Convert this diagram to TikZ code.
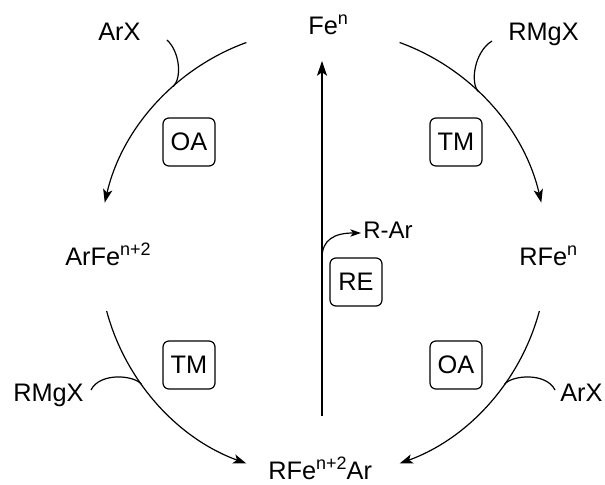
\documentclass[tikz,border=0pt]{standalone}
\usepackage{fontspec}
\setmainfont{Liberation Sans}
\usetikzlibrary{arrows.meta,calc}
% superscript sized to the label font
\newcommand\supx[1]{\raisebox{0.42em}{\fontsize{13.5}{15}\selectfont #1}}
\begin{document}
\begin{tikzpicture}[x=0.75pt,y=0.75pt,
  lbl/.style={anchor=base west,inner sep=0pt,font=\fontsize{19}{22}\selectfont},
  stepbox/.style={draw,line width=0.9pt,rounded corners=4.5pt,
    minimum width=39pt,minimum height=36pt,inner sep=0pt,
    font=\fontsize{19}{22}\selectfont},
  cyc/.style={line width=0.9pt,-{Stealth[length=10pt,width=7pt,inset=2.5pt]}},
  hook/.style={line width=0.9pt},
  main/.style={line width=1.3pt,-{Stealth[length=11pt,width=7.5pt,inset=2.5pt]}},
  small/.style={line width=0.9pt,-{Stealth[length=8pt,width=5.5pt,inset=2pt]}}]
\useasboundingbox (0,0) rectangle (605,484);

% species
\node[lbl] (fen)   at (308,449) {Fe\supx{n}};
\node[lbl] (arxa)  at (98,443)  {ArX};
\node[lbl] (rmgxa) at (508,443) {RMgX};
\node[lbl] (arfe)  at (65,218)  {ArFe\supx{n+2}};
\node[lbl] (rfe)   at (519,218) {RFe\supx{n}};
\node[lbl] (rmgxb) at (13,82)   {RMgX};
\node[lbl] (arxb)  at (560,82)  {ArX};
\node[lbl] (rfear) at (268,4)   {RFe\supx{n+2}Ar};
\node[lbl,font=\fontsize{18}{21}\selectfont] (rar) at (363,245) {R-Ar};

% step labels
\node[stepbox] (oaa) at (189,342) {OA};
\node[stepbox] (tma) at (456,342) {TM};
\node[stepbox] (re)  at (356,202) {RE};
\node[stepbox] (tmb) at (189,119) {TM};
\node[stepbox] (oab) at (456,119) {OA};

% cycle arcs
\coordinate (C) at (323,231);
\draw[cyc] ($(C)+(110:224)$) arc[start angle=110,end angle=167,radius=224];
\draw[cyc] ($(C)+(70:224)$)  arc[start angle=70,end angle=13,radius=224];
\draw[cyc] ($(C)+(195:224)$) arc[start angle=195,end angle=250,radius=224];
\draw[cyc] ($(C)+(-15:224)$) arc[start angle=-15,end angle=-70,radius=224];

% reagents joining the arcs
\coordinate (ja) at ($(C)+(132:224)$);
\coordinate (jb) at ($(C)+(46:224)$);
\coordinate (jc) at ($(C)+(216:224)$);
\coordinate (jd) at ($(C)+(-36:224)$);
\coordinate (ha) at (167,444);
\coordinate (hb) at (492,443);
\coordinate (hc) at (91,94);
\coordinate (hd) at (555,94);
\draw[hook] (ha) .. controls (180,432) and (182,405.5) .. (ja);
\draw[hook] (hb) .. controls (474,432) and (470,400.4) .. (jb);
\draw[hook] (hc) .. controls (100,112) and (134.7,109) .. (jc);
\draw[hook] (hd) .. controls (546,112) and (511.2,109) .. (jd);

% reductive elimination
\coordinate (vb) at (322,68);
\coordinate (vt) at (322,423);
\draw[main] (vb) -- (vt);
\coordinate (rs) at (322,226);
\draw[small] (rs) .. controls (322,244) and (334,251) .. ([xshift=-1.5pt]rar.west |- 0,251);
\end{tikzpicture}
\end{document}
